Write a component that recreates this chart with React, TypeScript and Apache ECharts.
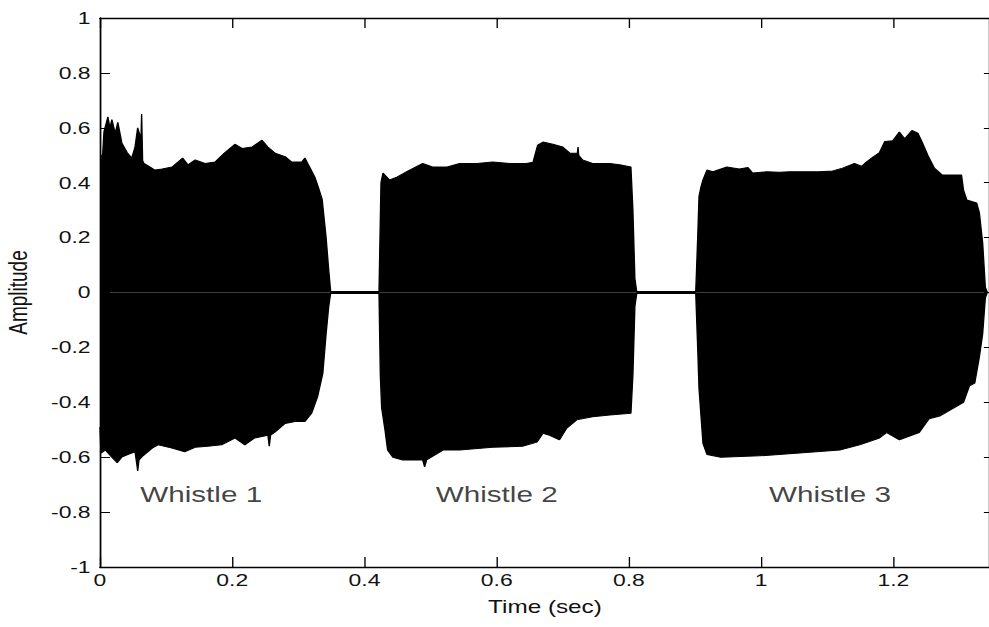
import React, { useEffect, useRef } from 'react';
import * as echarts from 'echarts';

// Envelope of the recorded waveform, [time (s), amplitude]
const whistle1Upper: number[][] = [
  [0, 0.5], [0.004, 0.5], [0.006, 0.585], [0.012, 0.64], [0.015, 0.6], [0.018, 0.63], [0.023, 0.58],
  [0.027, 0.62], [0.033, 0.545], [0.041, 0.51], [0.048, 0.49], [0.053, 0.53], [0.057, 0.6], [0.062, 0.56],
  [0.063, 0.65], [0.0645, 0.48], [0.0665, 0.47], [0.076, 0.457], [0.083, 0.446], [0.094, 0.45],
  [0.109, 0.457], [0.125, 0.49], [0.133, 0.465], [0.144, 0.483], [0.159, 0.47], [0.174, 0.475],
  [0.189, 0.51], [0.204, 0.54], [0.215, 0.525], [0.23, 0.53], [0.245, 0.555], [0.254, 0.53],
  [0.265, 0.507], [0.28, 0.495], [0.29, 0.475], [0.305, 0.475], [0.31, 0.49], [0.317, 0.457],
  [0.325, 0.42], [0.33, 0.385], [0.336, 0.34], [0.342, 0.2], [0.346, 0.08], [0.349, 0],
];
const whistle1Lower: number[][] = [
  [0, -0.49], [0.0015, -0.585], [0.008, -0.574], [0.018, -0.6], [0.026, -0.62], [0.033, -0.6],
  [0.042, -0.59], [0.053, -0.58], [0.056, -0.63], [0.057, -0.65], [0.059, -0.61], [0.065, -0.595],
  [0.079, -0.567], [0.088, -0.555], [0.109, -0.567], [0.128, -0.58], [0.144, -0.564], [0.163, -0.56],
  [0.184, -0.555], [0.204, -0.53], [0.219, -0.555], [0.234, -0.53], [0.254, -0.52], [0.256, -0.56],
  [0.258, -0.52], [0.265, -0.508], [0.28, -0.477], [0.295, -0.47], [0.31, -0.47], [0.32, -0.44],
  [0.329, -0.38], [0.337, -0.295], [0.342, -0.15], [0.346, -0.05], [0.349, 0],
];
const whistle2Upper: number[][] = [
  [0.422, 0], [0.425, 0.4], [0.428, 0.435], [0.438, 0.41], [0.449, 0.42], [0.464, 0.44], [0.488, 0.47],
  [0.503, 0.457], [0.525, 0.457], [0.544, 0.47], [0.57, 0.47], [0.594, 0.475], [0.62, 0.47],
  [0.645, 0.47], [0.655, 0.475], [0.662, 0.537], [0.67, 0.548], [0.685, 0.54], [0.7, 0.53],
  [0.711, 0.507], [0.722, 0.507], [0.723, 0.53], [0.724, 0.5], [0.73, 0.483], [0.745, 0.47],
  [0.771, 0.47], [0.786, 0.465], [0.803, 0.457], [0.806, 0.3], [0.809, 0.05], [0.812, 0],
];
const whistle2Lower: number[][] = [
  [0.422, 0], [0.424, -0.3], [0.426, -0.42], [0.431, -0.5], [0.435, -0.574], [0.443, -0.6],
  [0.458, -0.61], [0.488, -0.61], [0.491, -0.635], [0.494, -0.61], [0.519, -0.574], [0.544, -0.574],
  [0.594, -0.564], [0.639, -0.56], [0.661, -0.545], [0.67, -0.513], [0.68, -0.52], [0.695, -0.537],
  [0.706, -0.494], [0.721, -0.464], [0.745, -0.453], [0.771, -0.446], [0.803, -0.44], [0.806, -0.3],
  [0.809, -0.05], [0.812, 0],
];
const whistle3Upper: number[][] = [
  [0.901, 0], [0.904, 0.2], [0.906, 0.35], [0.909, 0.385], [0.912, 0.41], [0.918, 0.446], [0.927, 0.44],
  [0.948, 0.457], [0.967, 0.45], [0.98, 0.455], [0.987, 0.435], [1.008, 0.44], [1.028, 0.438],
  [1.043, 0.44], [1.069, 0.44], [1.088, 0.44], [1.108, 0.443], [1.123, 0.453], [1.141, 0.47],
  [1.152, 0.46], [1.159, 0.475], [1.169, 0.493], [1.179, 0.51], [1.187, 0.55], [1.199, 0.553],
  [1.209, 0.585], [1.217, 0.56], [1.228, 0.59], [1.237, 0.58], [1.244, 0.545], [1.252, 0.5],
  [1.262, 0.453], [1.274, 0.428], [1.303, 0.428], [1.306, 0.373], [1.311, 0.337], [1.326, 0.326],
  [1.33, 0.29], [1.335, 0.18], [1.339, 0.02], [1.342, 0],
];
const whistle3Lower: number[][] = [
  [0.901, 0], [0.904, -0.2], [0.906, -0.35], [0.909, -0.45], [0.912, -0.55], [0.918, -0.59],
  [0.939, -0.6], [0.998, -0.595], [1.058, -0.585], [1.119, -0.574], [1.149, -0.555], [1.179, -0.53],
  [1.19, -0.51], [1.209, -0.537], [1.239, -0.51], [1.254, -0.46], [1.27, -0.45], [1.306, -0.4],
  [1.315, -0.34], [1.323, -0.33], [1.33, -0.235], [1.335, -0.15], [1.339, -0.02], [1.342, 0],
];
const silence1: number[][] = [[0.349, 0], [0.422, 0]];
const silence2: number[][] = [[0.812, 0], [0.901, 0]];

const whistleNames = ['Whistle 1', 'Whistle 2', 'Whistle 3'];
const whistleLabelTimes = [0.153, 0.6, 1.104];
const whistleLabelAmp = -0.735;

const INNER_W = 733;
const SCALE_X = 989 / INNER_W;

export default function App() {
  const ref = useRef<HTMLDivElement>(null);
  useEffect(() => {
    if (!ref.current) return;
    const chart = echarts.init(ref.current, null, { renderer: 'svg' });
    const font = '"Liberation Sans", Arial, Helvetica, sans-serif';
    const env = (data: number[][]) => ({
      type: 'line',
      data,
      symbol: 'none',
      showSymbol: false,
      silent: true,
      lineStyle: { color: '#000', width: 1 },
      areaStyle: { color: '#000', opacity: 1, origin: 0 },
      z: 2,
    });
    const gap = (data: number[][]) => ({
      type: 'line',
      data,
      symbol: 'none',
      silent: true,
      lineStyle: { color: '#000', width: 3 },
      z: 2,
    });
    const axisLine = { show: true, onZero: false, lineStyle: { color: '#000', width: 1.3 } };
    chart.setOption({
      animation: false,
      backgroundColor: '#fff',
      grid: {
        left: 74.1, top: 18, width: 659.6, height: 549,
        containLabel: false, outerBoundsMode: 'none',
      },
      xAxis: [
        {
          type: 'value', position: 'bottom', min: 0, max: 1.346, interval: 0.2,
          name: 'Time (sec)', nameLocation: 'middle', nameGap: 31,
          nameTextStyle: { fontFamily: font, fontSize: 18, color: '#111' },
          axisLine,
          axisTick: { show: true, inside: true, length: 10, lineStyle: { color: '#000', width: 1 } },
          axisLabel: { fontFamily: font, fontSize: 17, color: '#111', margin: 5, showMaxLabel: false },
          splitLine: { show: false },
        },
        {
          type: 'value', position: 'top', min: 0, max: 1.346, interval: 0.2,
          axisLine,
          axisTick: { show: true, inside: true, length: 10, lineStyle: { color: '#000', width: 1 } },
          axisLabel: { show: false },
          splitLine: { show: false },
        },
      ],
      yAxis: [
        {
          type: 'value', position: 'left', min: -1, max: 1, interval: 0.2,
          name: 'Amplitude', nameLocation: 'middle', nameGap: 51, nameRotate: 90,
          nameTextStyle: { fontFamily: font, fontSize: 19, color: '#111' },
          axisLine,
          axisTick: { show: true, inside: true, length: 7.4, lineStyle: { color: '#000', width: 1 } },
          axisLabel: { fontFamily: font, fontSize: 17, color: '#111', margin: 7 },
          splitLine: { show: false },
        },
        {
          type: 'value', position: 'right', min: -1, max: 1, interval: 0.2,
          axisLine,
          axisTick: { show: true, inside: true, length: 4.5, lineStyle: { color: '#000', width: 1 } },
          axisLabel: { show: false },
          splitLine: { show: false },
        },
      ],
      series: [
        env(whistle1Upper), env(whistle1Lower),
        env(whistle2Upper), env(whistle2Lower),
        env(whistle3Upper), env(whistle3Lower),
        gap(silence1), gap(silence2),
        {
          type: 'scatter',
          silent: true,
          symbolSize: 0,
          data: whistleNames.map((n, i) => ({ name: n, value: [whistleLabelTimes[i], whistleLabelAmp] })),
          label: {
            show: true, position: 'inside', formatter: '{b}',
            fontFamily: font, fontSize: 22, color: '#111',
          },
          z: 5,
        },
      ],
    });
    return () => chart.dispose();
  }, []);
  return (
    <div style={{ position: 'fixed', left: 0, top: 0, width: 989, height: 627, overflow: 'hidden', background: '#fff' }}>
      <div
        ref={ref}
        style={{ width: INNER_W, height: 627, transform: `scaleX(${SCALE_X})`, transformOrigin: '0 0' }}
      />
    </div>
  );
}
